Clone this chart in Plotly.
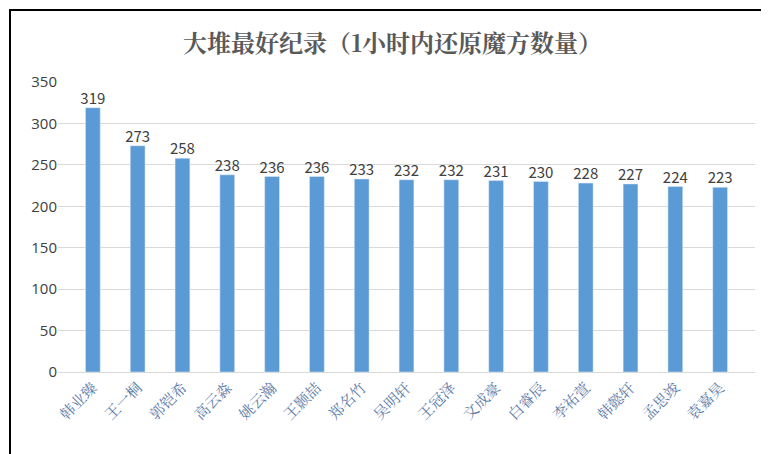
import plotly.graph_objects as go

names = ["韩业臻","王一桐","郭铠希","高云淼","姚云瀚","王颢喆","郑名竹","吴明轩","王冠泽","文成豪","白睿辰","李祐萱","韩懿轩","孟思竣","袁嘉昊"]
values = [319,273,258,238,236,236,233,232,232,231,230,228,227,224,223]

fig = go.Figure(go.Bar(x=names, y=values, marker_color="#5b9bd5", width=0.33))
fig.add_trace(go.Scatter(x=names, y=values, mode="text", text=values, textposition="top center",
                         cliponaxis=False, textfont=dict(size=15, color="#404040", family="Noto Sans CJK SC")))
fig.update_layout(
    width=769, height=454, plot_bgcolor="white", paper_bgcolor="white",
    margin=dict(l=50, r=22, t=74, b=90),
    title=dict(text="<b>大堆最好纪录（1小时内还原魔方数量）</b>", x=0.5, xanchor="center", y=0.94,
               font=dict(size=24, color="#595959", family="Noto Serif CJK SC, Noto Sans CJK SC")),
    showlegend=False, bargap=0.6,
    shapes=[dict(type="rect", xref="paper", yref="paper", x0=-48/697, x1=1+19/697, y0=-88/290, y1=1+72/290,
                 line=dict(color="black", width=2))],
)
fig.update_xaxes(tickangle=-45, tickfont=dict(size=15, color="#5b7aa6", family="Noto Serif CJK SC, Noto Sans CJK SC"),
                 showline=True, linecolor="#d9d9d9", ticks="")
fig.update_yaxes(range=[0,350], dtick=50, gridcolor="#d9d9d9", zeroline=False,
                 tickfont=dict(size=15, color="#404040"), ticks="")
fig.write_html("out.html")
